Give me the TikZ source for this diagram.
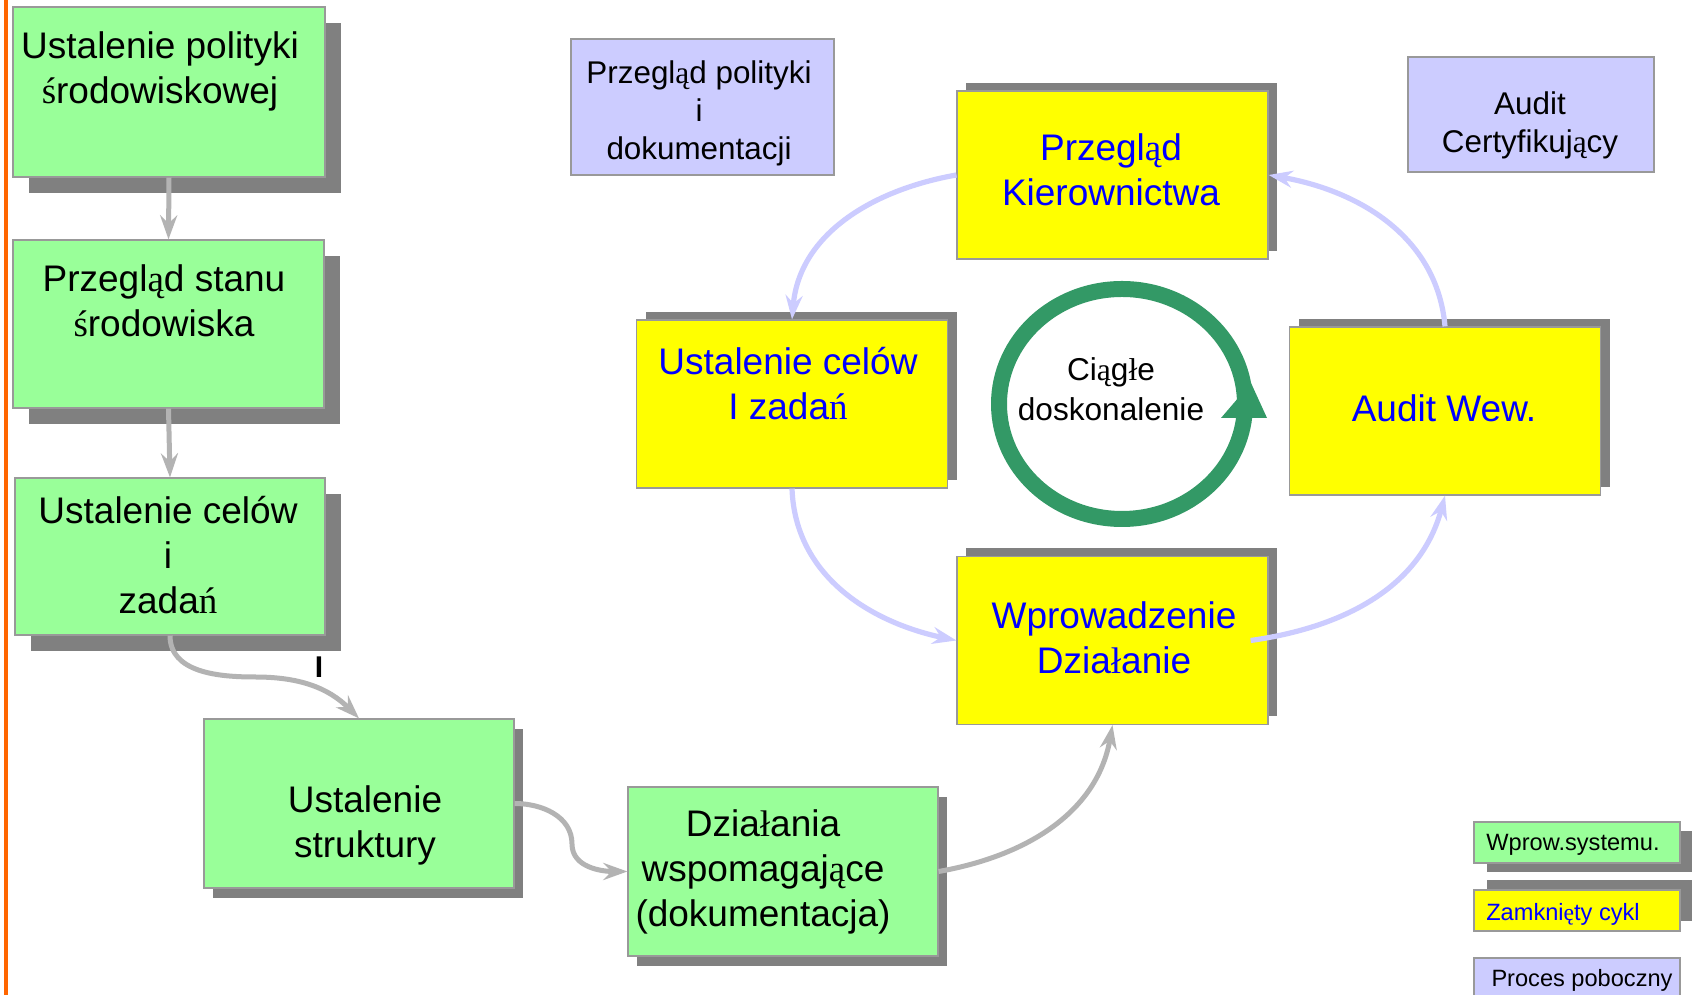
\documentclass[tikz,border=0pt]{standalone}
\usepackage{fontspec}
\setmainfont{Liberation Sans}
\newfontfamily\plfont{Liberation Serif}
\newcommand\plc[1]{{\plfont #1}}
\usetikzlibrary{shadows,arrows.meta,shapes.geometric}
\definecolor{boxgreen}{HTML}{99FF99}
\definecolor{boxyellow}{HTML}{FFFF00}
\definecolor{boxlav}{HTML}{CCCCFF}
\definecolor{boxborder}{HTML}{999999}
\definecolor{shadowgray}{HTML}{808080}
\definecolor{textblue}{HTML}{0000FF}
\definecolor{arrowgray}{HTML}{B3B3B3}
\definecolor{ringgreen}{HTML}{339966}
\definecolor{orangeline}{HTML}{FF6600}
\tikzset{
  boxbase/.style={draw=boxborder, line width=0.6pt, inner sep=0pt, anchor=center},
  gbox/.style={boxbase, fill=boxgreen},
  lbox/.style={boxbase, fill=boxlav},
  ybox/.style={boxbase, fill=boxyellow, minimum width=155.5pt, minimum height=84pt,
    drop shadow={shadow xshift=4.5pt, shadow yshift=4pt, fill=shadowgray, opacity=1}},
  shbig/.style={drop shadow={shadow xshift=8pt, shadow yshift=-8pt, fill=shadowgray, opacity=1}},
  shsmall/.style={drop shadow={shadow xshift=4.5pt, shadow yshift=-5pt, fill=shadowgray, opacity=1}},
  legbox/.style={minimum width=103pt, minimum height=20.5pt},
  bigtext/.style={font=\fontsize{18.5}{22.5}\selectfont, align=center, inner sep=0pt},
  midtext/.style={font=\fontsize{15.7}{19}\selectfont, align=center, inner sep=0pt},
  ringtext/.style={font=\fontsize{15.8}{20}\selectfont, align=center, inner sep=0pt},
  legtext/.style={font=\fontsize{11.8}{14}\selectfont, inner sep=0pt},
  grayarrow/.style={draw=arrowgray, line width=2.5pt, -{Stealth[length=12pt,width=8.5pt,inset=4pt]}},
  lavarrow/.style={draw=boxlav, line width=2.6pt, -{Stealth[length=12pt,width=8.5pt,inset=4pt]}},
}
\begin{document}
\begin{tikzpicture}[x=0.5pt,y=0.5pt]
\useasboundingbox[fill=white] (0,0) rectangle (1692,995);
\draw[orangeline, line width=1.75pt] (5.75,0) -- (5.75,995);

% green process boxes
\node[gbox, shbig, minimum width=156pt, minimum height=85pt] (b1) at (169,903) {};
\node[gbox, shbig, minimum width=155.5pt, minimum height=84pt] (b2) at (168.5,671) {};
\node[gbox, shbig, minimum width=155pt, minimum height=78.5pt] (b3) at (170,438.5) {};
\node[gbox, shsmall, minimum width=155pt, minimum height=84.5pt] (b4) at (359,191.5) {};
\node[gbox, shsmall, minimum width=155pt, minimum height=84.5pt] (b5) at (783,123.5) {};

% yellow cycle boxes
\node[ybox] (pk) at (1112.5,820) {};
\node[ybox] (uc) at (792,591) {};
\node[ybox] (aw) at (1445,584) {};
\node[ybox] (wd) at (1112.5,354.5) {};

% lavender side boxes
\node[lbox, minimum width=131.5pt, minimum height=68pt] (pp) at (702.5,888) {};
\node[lbox, minimum width=123pt, minimum height=57.5pt] (ac) at (1531,880.5) {};

% legend boxes
\node[gbox, legbox, drop shadow={shadow xshift=6.7pt, shadow yshift=-4.5pt, fill=shadowgray, opacity=1}] (lw) at (1577,152.5) {};
\node[boxbase, fill=boxyellow, legbox, drop shadow={shadow xshift=6.7pt, shadow yshift=4.8pt, fill=shadowgray, opacity=1}] (lz) at (1577,84.5) {};
\node[lbox, legbox] (lp) at (1577,16.5) {};

% ring
\node[draw=ringgreen, line width=8pt, ellipse, minimum width=123pt, minimum height=115pt, inner sep=0pt] (ring) at (1122,591) {};
\fill[ringgreen] (1251,612) -- (1221,577) -- (1267,577) -- cycle;

% texts
\node[bigtext] (t1) at (160,924) {Ustalenie polityki\\\plc{ś}rodowiskowej};
\node[bigtext] (t2) at (164,694) {Przegl\plc{ą}d stanu\\\plc{ś}rodowiska};
\node[bigtext] (t3) at (168,440) {Ustalenie celów\\i\\zada\plc{ń}};
\node[bigtext] (t4) at (365,170) {Ustalenie\\struktury};
\node[bigtext] (t5) at (763,123) {Dzia\plc{ł}ania\\wspomagaj\plc{ą}ce\\(dokumentacja)};
\node[bigtext, text=textblue] (tpk) at (1111,825) {Przegl\plc{ą}d\\Kierownictwa};
\node[bigtext, text=textblue] (tuc) at (788,611) {Ustalenie celów\\I zada\plc{ń}};
\node[bigtext, text=textblue] (taw) at (1444,587) {Audit Wew.};
\node[bigtext, text=textblue] (twd) at (1114,357) {Wprowadzenie\\Dzia\plc{ł}anie};
\node[midtext] (tpp) at (699,882) {Przegl\plc{ą}d polityki\\i\\dokumentacji};
\node[midtext] (tac) at (1530,870) {Audit\\Certyfikuj\plc{ą}cy};
\node[ringtext] (tring) at (1111,606) {Ci\plc{ą}g\plc{ł}e\\doskonalenie};
\node[legtext] (tlw) at (1573,150) {Wprow.systemu.};
\node[legtext, text=textblue] (tlz) at (1563,81) {Zamkni\plc{ę}ty cykl};
\node[legtext] (tlp) at (1582,15) {Proces poboczny};
\node[font=\bfseries\fontsize{15}{18}\selectfont, inner sep=0pt] (tI) at (319,328) {I};

% gray arrows
\coordinate (c3) at (255,318);
\coordinate (c4) at (572,151);
\draw[grayarrow] (b1.south) -- (b2.north);
\draw[grayarrow] (b2.south) -- (b3.north);
\draw[grayarrow] (b3.south) to[out=-90,in=180] (c3) to[out=0,in=135] (b4.north);
\draw[grayarrow] (b4.east) to[out=0,in=90] (c4) to[out=-90,in=180] (b5.west);
\draw[grayarrow] (b5.east) to[out=10,in=-100] (wd.south);

% lavender cycle arrows
\draw[lavarrow] (pk.west) to[out=190,in=85] (uc.north);
\draw[lavarrow] (uc.south) to[out=-88,in=168] (wd.west);
\draw[lavarrow] ([xshift=-9pt]wd.east) to[out=8,in=-105] (aw.south);
\draw[lavarrow] (aw.north) to[out=95,in=-10] (pk.east);
\end{tikzpicture}
\end{document}
